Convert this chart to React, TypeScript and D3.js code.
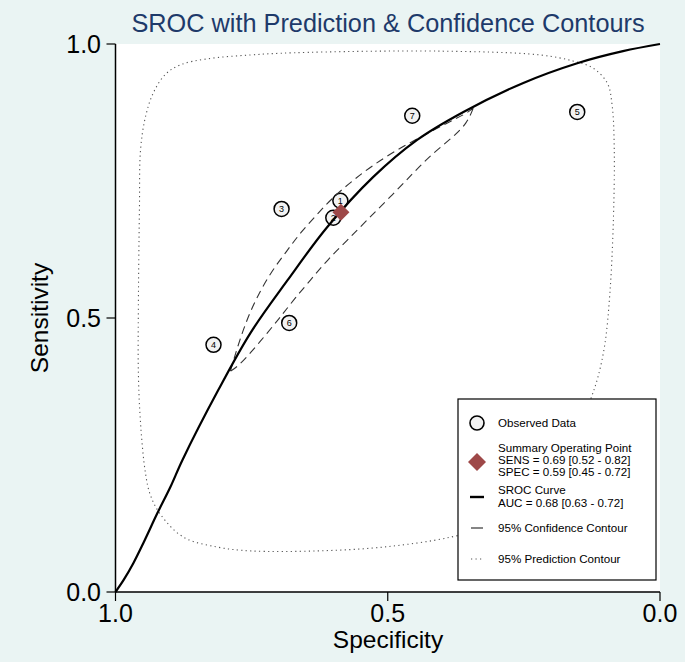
import React from "react";
import * as d3 from "d3";

const W = 685;
const H = 662;

// Axis ticks
const xTicks = [1.0, 0.5, 0.0];
const yTicks = [0.0, 0.5, 1.0];

// Observed studies
const studyIds = ["1", "2", "3", "4", "5", "6", "7"];
const studySpec = [0.587, 0.6, 0.695, 0.82, 0.152, 0.681, 0.455];
const studySens = [0.714, 0.683, 0.699, 0.451, 0.876, 0.491, 0.869];

// Summary operating point
const summarySpec = 0.586;
const summarySens = 0.693;

// SROC curve
const srocSpec = [1.0, 0.985, 0.967, 0.949, 0.923, 0.899, 0.877, 0.811, 0.752, 0.684, 0.611, 0.527, 0.446, 0.361, 0.251, 0.152, 0.068, 0.0];
const srocSens = [0.0, 0.022, 0.053, 0.089, 0.144, 0.192, 0.241, 0.369, 0.473, 0.569, 0.666, 0.757, 0.825, 0.876, 0.929, 0.965, 0.987, 1.0];

// 95% confidence contour: upper branch (lower-left tip -> upper-right tip)
const confUpSpec = [0.789, 0.776, 0.761, 0.743, 0.716, 0.684, 0.661, 0.629, 0.6, 0.563, 0.527, 0.483, 0.44, 0.391, 0.354, 0.343];
const confUpSens = [0.403, 0.447, 0.491, 0.533, 0.582, 0.624, 0.655, 0.69, 0.721, 0.752, 0.779, 0.807, 0.83, 0.856, 0.874, 0.883];
// lower branch (upper-right tip -> lower-left tip)
const confLoSpec = [0.343, 0.354, 0.38, 0.417, 0.453, 0.495, 0.538, 0.574, 0.611, 0.642, 0.673, 0.697, 0.721, 0.752, 0.776, 0.789];
const confLoSens = [0.883, 0.856, 0.83, 0.801, 0.765, 0.721, 0.679, 0.642, 0.606, 0.569, 0.533, 0.502, 0.473, 0.436, 0.411, 0.403];

// 95% prediction contour (closed)
const predSpec = [0.954, 0.958, 0.958, 0.956, 0.954, 0.945, 0.93, 0.908, 0.881, 0.831, 0.752, 0.673, 0.404, 0.22, 0.16, 0.123, 0.097, 0.088, 0.084, 0.086, 0.092, 0.101, 0.114, 0.128, 0.156, 0.22, 0.312, 0.385, 0.508, 0.629, 0.752, 0.813, 0.875, 0.917, 0.936, 0.945];
const predSens = [0.308, 0.4, 0.52, 0.703, 0.807, 0.867, 0.912, 0.945, 0.962, 0.973, 0.98, 0.984, 0.987, 0.98, 0.969, 0.956, 0.929, 0.889, 0.807, 0.666, 0.546, 0.454, 0.392, 0.35, 0.277, 0.186, 0.122, 0.1, 0.082, 0.075, 0.075, 0.082, 0.1, 0.141, 0.177, 0.217];

const legendLines = {
  observed: "Observed Data",
  summary: ["Summary Operating Point", "SENS = 0.69 [0.52 - 0.82]", "SPEC = 0.59 [0.45 - 0.72]"],
  sroc: ["SROC Curve", "AUC = 0.68 [0.63 - 0.72]"],
  conf: "95% Confidence Contour",
  pred: "95% Prediction Contour",
};

const FONT = "'Liberation Sans', Arial, Helvetica, sans-serif";

export default function App() {
  const left = 115.5;
  const right = 660;
  const top = 44;
  const bottom = 592;
  const x = d3.scaleLinear().domain([1, 0]).range([left, right]);
  const y = d3.scaleLinear().domain([0, 1]).range([bottom, top]);

  const pts = (sp: number[], se: number[]): [number, number][] => sp.map((s, i) => [x(s), y(se[i])]);

  const smooth = d3.line().curve(d3.curveBasis);
  const closedLine = d3.line().curve(d3.curveCatmullRomClosed.alpha(0.5));

  const confPath = (smooth(pts(confUpSpec, confUpSens)) || "") + (smooth(pts(confLoSpec, confLoSens)) || "");
  const predPath = closedLine(pts(predSpec, predSens)) || "";
  const srocPath = d3.line().curve(d3.curveCatmullRom.alpha(0.5))(pts(srocSpec, srocSens)) || "";

  const diamond = (cx: number, cy: number, r: number) =>
    `M${cx},${cy - r}L${cx + r},${cy}L${cx},${cy + r}L${cx - r},${cy}Z`;

  const lgX = 458;
  const lgY = 399;
  const lgW = 198;
  const lgH = 181;
  const symX = 477;
  const txtX = 498;
  const lf = 11.6;

  return (
    <svg width={W} height={H} style={{ position: "absolute", left: 0, top: 0 }} fontFamily={FONT}>
      <rect x={0} y={0} width={W} height={H} fill="#eaf4f3" />
      <rect x={left} y={top} width={right - left} height={bottom - top} fill="#ffffff" />

      <text x={388} y={32} textAnchor="middle" fontSize={25.3} fill="#1e3a6a">
        SROC with Prediction &amp; Confidence Contours
      </text>

      {/* prediction contour */}
      <path d={predPath} fill="none" stroke="#555" strokeWidth={1.1} strokeDasharray="1.2,3.3" />

      {/* observed studies */}
      {studySpec.map((s, i) => (
        <g key={i}>
          <circle cx={x(s)} cy={y(studySens[i])} r={7.5} fill="#f2f2f2" stroke="#000" strokeWidth={1.5} />
          <text x={x(s)} y={y(studySens[i]) + 3.2} textAnchor="middle" fontSize={9} fill="#000">
            {studyIds[i]}
          </text>
        </g>
      ))}

      {/* confidence contour */}
      <path d={confPath} fill="none" stroke="#333" strokeWidth={1.1} strokeDasharray="8,5" />

      {/* SROC curve */}
      <path d={srocPath} fill="none" stroke="#000" strokeWidth={2.2} />

      {/* summary point */}
      <path d={diamond(x(summarySpec), y(summarySens), 8.5)} fill="#9e4848" />

      {/* axes */}
      <line x1={left} y1={top} x2={left} y2={bottom} stroke="#000" strokeWidth={1.5} />
      <line x1={left} y1={bottom} x2={right} y2={bottom} stroke="#000" strokeWidth={1.5} />
      {yTicks.map((t) => (
        <g key={"y" + t}>
          <line x1={left - 9} x2={left} y1={y(t)} y2={y(t)} stroke="#000" strokeWidth={1.2} />
          <text x={101} y={y(t) + 9} textAnchor="end" fontSize={25} fill="#000">
            {t.toFixed(1)}
          </text>
        </g>
      ))}
      {xTicks.map((t) => (
        <g key={"x" + t}>
          <line x1={x(t)} x2={x(t)} y1={bottom} y2={bottom + 9} stroke="#000" strokeWidth={1.2} />
          <text x={x(t)} y={bottom + 30} textAnchor="middle" fontSize={25} fill="#000">
            {t.toFixed(1)}
          </text>
        </g>
      ))}
      <text x={388} y={648} textAnchor="middle" fontSize={24.5} fill="#000">
        Specificity
      </text>
      <text transform={`translate(48,318) rotate(-90)`} textAnchor="middle" fontSize={24.5} fill="#000">
        Sensitivity
      </text>

      {/* legend */}
      <rect x={lgX} y={lgY} width={lgW} height={lgH} fill="#fff" stroke="#000" strokeWidth={1.2} />
      <circle cx={symX} cy={423} r={7} fill="#f2f2f2" stroke="#000" strokeWidth={1.6} />
      <text x={txtX} y={427} fontSize={lf} fill="#000">{legendLines.observed}</text>

      <path d={diamond(symX, 462, 9)} fill="#9e4848" />
      {legendLines.summary.map((s, i) => (
        <text key={s} x={txtX} y={451.5 + i * 12.3} fontSize={lf} fill="#000">{s}</text>
      ))}

      <line x1={470} x2={484} y1={497} y2={497} stroke="#000" strokeWidth={2.4} />
      {legendLines.sroc.map((s, i) => (
        <text key={s} x={txtX} y={494 + i * 13} fontSize={lf} fill="#000">{s}</text>
      ))}

      <line x1={471} x2={483} y1={528} y2={528} stroke="#333" strokeWidth={1.2} />
      <text x={txtX} y={532} fontSize={lf} fill="#000">{legendLines.conf}</text>

      <line x1={471} x2={484} y1={559} y2={559} stroke="#555" strokeWidth={1.1} strokeDasharray="1.2,3.3" />
      <text x={txtX} y={563} fontSize={lf} fill="#000">{legendLines.pred}</text>
    </svg>
  );
}
